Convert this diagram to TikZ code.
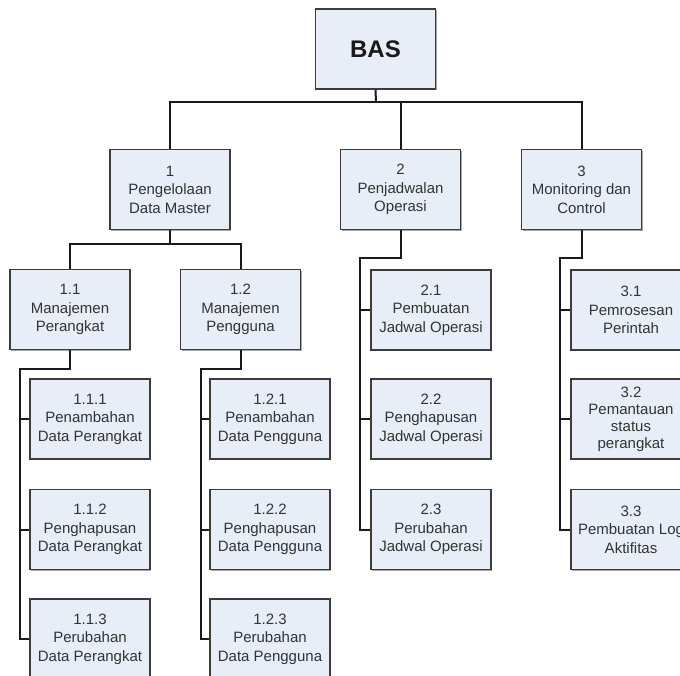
\documentclass[tikz,border=0pt]{standalone}
\usepackage{fontspec}
\setmainfont{Liberation Sans}
\usetikzlibrary{shadows}
\definecolor{boxfill}{HTML}{E8EEF8}
\definecolor{boxline}{HTML}{3C3C3C}
\definecolor{labeltext}{HTML}{333333}
\tikzset{
  wbs/.style={draw=boxline, line width=1.6pt, fill=boxfill,
    minimum width=120pt, minimum height=80pt, inner sep=1pt,
    align=center, text=labeltext,
    font=\fontsize{15}{18.5}\selectfont,
    drop shadow={shadow xshift=1.3pt, shadow yshift=-1.3pt, fill=black!35, opacity=1}},
  rootbox/.style={wbs, font=\fontsize{24}{28}\bfseries, text=black!90},
  link/.style={draw=black!90, line width=2pt, line join=miter}
}
\begin{document}
\begin{tikzpicture}[x=1pt, y=-1pt]
\useasboundingbox (0,0) rectangle (680,675);
\clip (0,0) rectangle (680,675);

% root and first level
\node[rootbox] (bas) at (375.5,49) {BAS};
\node[wbs] (n1) at (170,189.5) {1\\Pengelolaan\\Data Master};
\node[wbs] (n2) at (400.5,189.5) {2\\Penjadwalan\\Operasi};
\node[wbs] (n3) at (581.5,189.5) {3\\Monitoring dan\\Control};

% second level
\node[wbs] (n11) at (70,309.5) {1.1\\Manajemen\\Perangkat};
\node[wbs] (n12) at (240.5,309.5) {1.2\\Manajemen\\Pengguna};
\node[wbs] (n21) at (431,310) {2.1\\Pembuatan\\Jadwal Operasi};
\node[wbs] (n31) at (631,310) {3.1\\Pemrosesan\\Perintah};

% third level
\node[wbs] (n111) at (90,419) {1.1.1\\Penambahan\\Data Perangkat};
\node[wbs] (n112) at (90,529.5) {1.1.2\\Penghapusan\\Data Perangkat};
\node[wbs] (n113) at (90,639) {1.1.3\\Perubahan\\Data Perangkat};
\node[wbs] (n121) at (270,419) {1.2.1\\Penambahan\\Data Pengguna};
\node[wbs] (n122) at (270,529.5) {1.2.2\\Penghapusan\\Data Pengguna};
\node[wbs] (n123) at (270,639) {1.2.3\\Perubahan\\Data Pengguna};
\node[wbs] (n22) at (431,419) {2.2\\Penghapusan\\Jadwal Operasi};
\node[wbs] (n23) at (431,529.5) {2.3\\Perubahan\\Jadwal Operasi};
\node[wbs, font=\fontsize{15}{17}\selectfont] (n32) at (631,419) {3.2\\Pemantauan\\status\\perangkat};
\node[wbs] (n33) at (631,529.5) {3.3\\Pembuatan Log\\Aktifitas};

% bus junctions
\coordinate (top) at (376,102);
\coordinate (m1) at (170,244);
\coordinate (b11) at (20,369);
\coordinate (b12) at (201,369);
\coordinate (b2) at (360,258);
\coordinate (b3) at (560,258);

% root to first level
\draw[link] (bas.south) -- (top);
\draw[link] (n1.north) |- (top) -| (n3.north);
\draw[link] (n2.north) -- (n2.north |- top);
% project 1 to its sub-projects
\draw[link] (n1.south) -- (m1);
\draw[link] (n11.north) |- (m1) -| (n12.north);
% work packages under 1.1 and 1.2
\draw[link] (n11.south) |- (b11) |- (n113.west);
\draw[link] (b11) |- (n111.west);
\draw[link] (b11) |- (n112.west);
\draw[link] (n12.south) |- (b12) |- (n123.west);
\draw[link] (b12) |- (n121.west);
\draw[link] (b12) |- (n122.west);
% sub-projects under 2
\draw[link] (n2.south) |- (b2) |- (n23.west);
\draw[link] (b2) |- (n21.west);
\draw[link] (b2) |- (n22.west);
% sub-projects under 3
\draw[link] (n3.south) |- (b3) |- (n33.west);
\draw[link] (b3) |- (n31.west);
\draw[link] (b3) |- (n32.west);
\end{tikzpicture}
\end{document}
